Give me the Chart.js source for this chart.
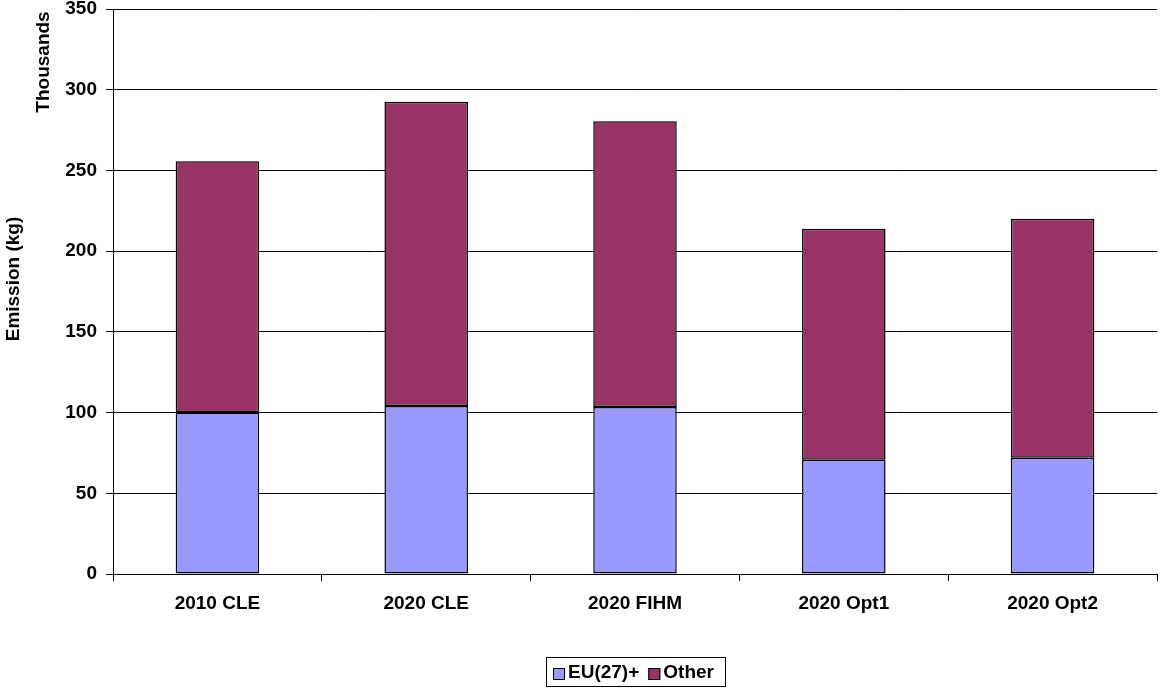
<!DOCTYPE html>
<html>
<head>
<meta charset="utf-8">
<script src="https://cdn.jsdelivr.net/npm/chart.js@4.4.0/dist/chart.umd.min.js"></script>
<style>
  html, body { margin: 0; padding: 0; background: #fff; }
  #wrap { width: 1161px; height: 691px; }
</style>
</head>
<body>
<div id="wrap"><canvas id="chart" width="1161" height="691"></canvas></div>
<script>
const categories = ["2010 CLE", "2020 CLE", "2020 FIHM", "2020 Opt1", "2020 Opt2"];
const euValues = [100, 104, 103.5, 70.8, 72];
const otherValues = [155.7, 188.5, 177, 143, 148];
const yTicks = [0, 50, 100, 150, 200, 250, 300, 350];

const FONT = "Arial, 'Liberation Sans', sans-serif";
const BOLD = "bold 19px " + FONT;

// axis titles and the framed legend under the plot
const extras = {
  id: "extras",
  afterDraw(chart) {
    const ctx = chart.ctx;
    const area = chart.chartArea;
    ctx.save();
    ctx.fillStyle = "#000";
    ctx.font = BOLD;
    ctx.textAlign = "center";
    ctx.textBaseline = "middle";

    ctx.save();
    ctx.translate(44, 62);
    ctx.rotate(-Math.PI / 2);
    ctx.fillText("Thousands", 0, 0);
    ctx.restore();

    ctx.save();
    ctx.translate(14, 279);
    ctx.rotate(-Math.PI / 2);
    ctx.fillText("Emission (kg)", 0, 0);
    ctx.restore();

    // legend
    const sets = chart.data.datasets;
    const widths = sets.map(ds => ctx.measureText(ds.label).width);
    const box = 12, gapText = 3, gapItem = 9, padL = 7, padR = 11;
    const total = padL + padR + widths.reduce((a, w) => a + box + gapText + w, 0) + gapItem * (sets.length - 1);
    const cx = (area.left + area.right) / 2;
    let x = Math.round(cx - total / 2);
    const top = 657, h = 29, mid = top + h / 2 + 1;
    ctx.lineWidth = 1;
    ctx.strokeStyle = "#000";
    ctx.strokeRect(x + 0.5, top + 0.5, Math.round(total), h);
    x += padL;
    ctx.textAlign = "left";
    sets.forEach((ds, i) => {
      ctx.fillStyle = ds.backgroundColor;
      ctx.fillRect(x, 668, box, box);
      ctx.strokeRect(x + 0.5, 668.5, box - 1, box - 1);
      x += box + gapText;
      ctx.fillStyle = "#000";
      ctx.fillText(ds.label, x, mid);
      x += widths[i] + gapItem;
    });
    ctx.restore();
  }
};

new Chart(document.getElementById("chart"), {
  type: "bar",
  data: {
    labels: categories,
    datasets: [
      {
        label: "EU(27)+",
        data: euValues,
        backgroundColor: "#9999FF",
        borderColor: "#000",
        borderWidth: 1.5,
        borderSkipped: false,
        barPercentage: 0.4,
        categoryPercentage: 1,
      },
      {
        label: "Other",
        data: otherValues,
        backgroundColor: "#993366",
        borderColor: "#000",
        borderWidth: 1.5,
        borderSkipped: false,
        barPercentage: 0.4,
        categoryPercentage: 1,
      },
    ],
  },
  options: {
    responsive: false,
    animation: false,
    layout: { padding: { left: 0, right: 4, top: 0, bottom: 0 } },
    plugins: {
      tooltip: { enabled: false },
      legend: { display: false },
    },
    scales: {
      x: {
        stacked: true,
        afterFit(scale) { scale.height = 117; },
        grid: { display: true, drawOnChartArea: false, offset: true, color: "#000", tickLength: 7 },
        border: { color: "#000", width: 1 },
        ticks: { color: "#000", font: { family: FONT, size: 19, weight: "bold" }, padding: 11, maxRotation: 0 },
      },
      y: {
        stacked: true,
        min: 0,
        max: 350,
        afterBuildTicks(scale) { scale.ticks = yTicks.map(v => ({ value: v })); },
        afterFit(scale) {
          scale.width = 113;
          scale.paddingTop = 9;
          scale.paddingBottom = 0;
        },
        grid: { color: "#000", tickLength: 7 },
        border: { color: "#000", width: 1 },
        ticks: { color: "#000", font: { family: FONT, size: 19, weight: "bold" }, padding: 9 },
      },
    },
  },
  plugins: [extras],
});
</script>
</body>
</html>
